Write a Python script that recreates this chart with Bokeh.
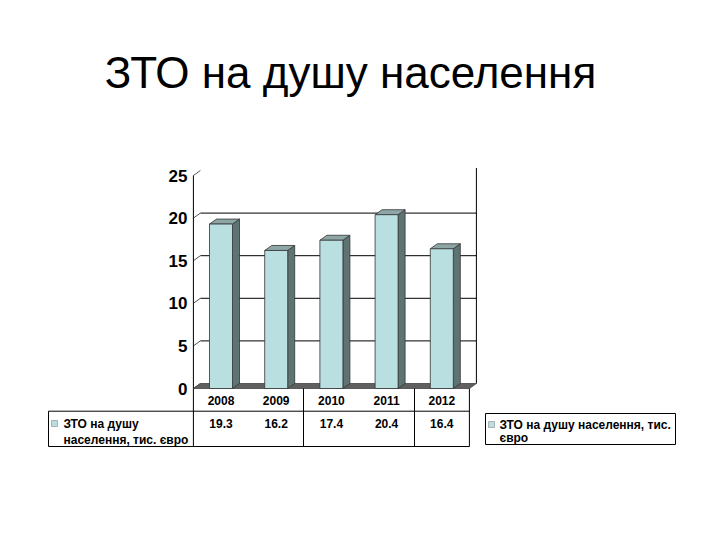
from bokeh.plotting import figure
from bokeh.models import Range1d
from bokeh.core.properties import value
from bokeh.embed import file_html
from bokeh.resources import INLINE

# data
years = ["2008", "2009", "2010", "2011", "2012"]
gdp = [19.3, 16.2, 17.4, 20.4, 16.4]
ticks = [0, 5, 10, 15, 20, 25]
title = "ЗТО на душу населення"
series_short = ["ЗТО на душу", "населення, тис. євро"]
series_long = ["ЗТО на душу населення, тис.", "євро"]

FONT = value("Liberation Sans")

# page pixels -> data units (category index on x, value on y)
X0 = 220.5
DX = 55.2
Y0 = 388.0
DY = 8.52

def px2x(px):
    return (px - X0) / DX

def py2y(py):
    return (Y0 - py) / DY

p = figure(width=704, height=524, output_backend="svg", toolbar_location=None,
           x_range=Range1d(px2x(0), px2x(704)), y_range=Range1d(py2y(524), py2y(0)),
           min_border=0, tools="")
p.axis.visible = False
p.grid.visible = False
p.outline_line_color = None
p.background_fill_color = "white"

n = len(years)
xs = list(range(n))
left, right = -0.5, n - 0.5
dx = 7 / DX
dy = 5 / DY
w = 23 / DX
top = ticks[-1]

# title
p.text(x=[px2x(350)], y=[py2y(72)], text=[title], text_font=FONT, text_font_size="44px",
       text_align="center", text_baseline="middle", text_color="black")

# back wall grid lines
grid = [t for t in ticks if 0 < t < top]
p.segment(x0=[left + dx] * len(grid), y0=[t + dy for t in grid],
          x1=[right + dx] * len(grid), y1=[t + dy for t in grid],
          line_color="black", line_width=1)
# little diagonal ticks on the side
p.segment(x0=[left] * len(ticks), y0=ticks, x1=[left + dx] * len(ticks),
          y1=[t + dy for t in ticks], line_color="#555555", line_width=1)
# right edge of the back wall
p.segment(x0=[right + dx], y0=[dy], x1=[right + dx], y1=[top + dy + 0.3],
          line_color="black", line_width=1)
# front axis
p.segment(x0=[left], y0=[0], x1=[left], y1=[top], line_color="black", line_width=1)

# floor
p.patch(x=[left, right, right + dx, left + dx], y=[0, 0, dy, dy],
        fill_color="#606060", line_color="#444444", line_width=0.8)

# 3d columns
side_xs, side_ys, top_xs, top_ys = [], [], [], []
for i, v in zip(xs, gdp):
    l, r = i - w / 2, i + w / 2
    side_xs.append([r, r + dx, r + dx, r])
    side_ys.append([0, dy, v + dy, v])
    top_xs.append([l, l + dx, r + dx, r])
    top_ys.append([v, v + dy, v + dy, v])
p.patches(xs=side_xs, ys=side_ys, fill_color="#5E7373", line_color="#333333", line_width=0.8)
p.patches(xs=top_xs, ys=top_ys, fill_color="#8FA6A6", line_color="#333333", line_width=0.8)
p.quad(left=[i - w / 2 for i in xs], right=[i + w / 2 for i in xs], bottom=0, top=gdp,
       fill_color="#BADFE1", line_color="#333333", line_width=0.8)

# y tick labels
p.text(x=[px2x(187)] * len(ticks), y=ticks, text=[str(t) for t in ticks], text_font=FONT,
       text_font_size="17px", text_font_style="bold", text_align="right",
       text_baseline="middle", text_color="black")

# data table
row1 = py2y(410.7)
row2 = py2y(446)
tleft = px2x(48)
p.segment(x0=[left, tleft, tleft, tleft, right, px2x(303), px2x(414)],
          y0=[0, row1, row2, row1, 0, 0, 0],
          x1=[left, right, right, tleft, right, px2x(303), px2x(414)],
          y1=[row2, row1, row2, row2, row2, row2, row2],
          line_color="black", line_width=1)
p.text(x=xs, y=[py2y(400)] * n, text=years, text_font=FONT, text_font_size="12px",
       text_font_style="bold", text_align="center", text_baseline="middle", text_color="black")
p.text(x=xs, y=[py2y(423)] * n, text=[str(v) for v in gdp], text_font=FONT,
       text_font_size="12px", text_font_style="bold", text_align="center",
       text_baseline="middle", text_color="black")
p.rect(x=[px2x(54)], y=[py2y(423)], width=6 / DX, height=6 / DY,
       fill_color="#BADFE1", line_color="#888888", line_width=0.6)
p.text(x=[px2x(63)] * 2, y=[py2y(423), py2y(439)], text=series_short, text_font=FONT,
       text_font_size="12px", text_font_style="bold", text_align="left",
       text_baseline="middle", text_color="black")

# legend box on the right
p.quad(left=[px2x(485)], right=[px2x(675)], bottom=[py2y(444)], top=[py2y(413)],
       fill_color="white", line_color="black", line_width=1)
p.rect(x=[px2x(491)], y=[py2y(424)], width=6 / DX, height=6 / DY,
       fill_color="#BADFE1", line_color="#888888", line_width=0.6)
p.text(x=[px2x(499)] * 2, y=[py2y(424), py2y(437)], text=series_long, text_font=FONT,
       text_font_size="12px", text_font_style="bold", text_align="left",
       text_baseline="middle", text_color="black")

open("out.html", "w").write(file_html(p, INLINE))
